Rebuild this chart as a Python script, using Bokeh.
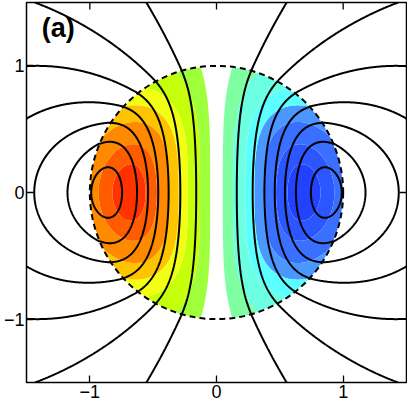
import numpy as np
from bokeh.plotting import figure
from bokeh.models import Range1d, FixedTicker, Label
from bokeh.embed import file_html
from bokeh.resources import INLINE

# ---- values ----
# equatorial radii where the black flux contours cross y=0 inside the sphere, and their flux values
eq_r = [0.16, 0.28, 0.38, 0.46, 0.54, 0.63, 0.74, 0.86, 0.984, 1.0]
eq_psi = [0.075, 0.23, 0.385, 0.54, 0.695, 0.85, 1.005, 1.06, 1.005, 1.0]
# flux values of the drawn black contours
psi_levels = [0.075, 0.23, 0.385, 0.54, 0.695, 0.85, 1.005]
# filled-band thresholds (magnitude) of the coloured field inside the sphere
band_levels = [0.05, 0.13, 0.225, 0.295, 0.36, 0.438, 0.488]
band_top = 1.0
pos_colors = ["#9eff3a", "#c6ff0a", "#f2ff12", "#ffc400", "#ff8a00", "#ff5c00", "#ff3200"]
neg_colors = ["#80ffa2", "#6cffe2", "#5cffff", "#4a98ff", "#3a70ff", "#2c56ff", "#2242ff"]
sphere_radius = 1.0
axis_min, axis_max = -1.5, 1.5
tick_vals = [-1, 0, 1]
tick_labels = ["\u22121", "0", "1"]
panel_label = "(a)"

frame_px = 380
tick_px = 7

# ---- fields ----
n = 541
xs = np.linspace(axis_min, axis_max, n)
X, Y = np.meshgrid(xs, xs)
U = X**2 + Y**2
R = np.sqrt(U)

er = np.array(eq_r)
eu = er**2
A = np.vstack([eu, eu**2, eu**3, eu**4]).T
coef, *_ = np.linalg.lstsq(A, np.array(eq_psi), rcond=None)
psi_in = X**2 * (coef[0] + coef[1]*U + coef[2]*U**2 + coef[3]*U**3)
psi_out = X**2 / np.maximum(R, 1e-9)**3
PSI = np.where(R <= sphere_radius, psi_in, psi_out)

F = -X / (1.0 + 1.5 * U**2)
F = np.where(R <= sphere_radius, F, np.nan)

p = figure(frame_width=frame_px, frame_height=frame_px,
           x_range=Range1d(axis_min, axis_max), y_range=Range1d(axis_min, axis_max),
           output_backend="svg", toolbar_location=None,
           min_border_left=22, min_border_right=1, min_border_top=2, min_border_bottom=21,
           background_fill_color="white", border_fill_color="white")
p.xgrid.visible = False
p.ygrid.visible = False
p.outline_line_color = "black"
p.outline_line_width = 1.5

for ax in (p.xaxis[0], p.yaxis[0]):
    ax.ticker = FixedTicker(ticks=tick_vals)
    ax.major_label_overrides = {v: s for v, s in zip(tick_vals, tick_labels)}
    ax.major_tick_in = tick_px
    ax.major_tick_out = 0
    ax.major_tick_line_width = 1.3
    ax.minor_tick_line_color = None
    ax.axis_line_color = None
    ax.major_label_text_font = "Liberation Sans"
    ax.major_label_text_font_size = "18px"
    ax.major_label_text_color = "black"
    ax.major_label_standoff = 2

# filled bands
p.contour(X, Y, F, levels=band_levels + [band_top], fill_color=pos_colors, line_color=None)
p.contour(X, Y, F, levels=[-band_top] + [-t for t in reversed(band_levels)],
          fill_color=list(reversed(neg_colors)), line_color=None)

# black flux lines
p.contour(X, Y, PSI, levels=psi_levels, fill_color=None, line_color="black", line_width=2.0)

# dashed sphere boundary
p.circle(x=[0], y=[0], radius=sphere_radius, fill_color=None, line_color="black",
         line_width=2.0, line_dash="6 4")

# mirrored ticks on the top and right edges
tl = tick_px * (axis_max - axis_min) / frame_px
nt = len(tick_vals)
p.segment(x0=tick_vals, y0=[axis_max]*nt, x1=tick_vals, y1=[axis_max - tl]*nt,
          line_color="black", line_width=1.3)
p.segment(x0=[axis_max]*nt, y0=tick_vals, x1=[axis_max - tl]*nt, y1=tick_vals,
          line_color="black", line_width=1.3)

p.add_layout(Label(x=-1.38, y=1.42, text=panel_label, text_font="Liberation Sans",
                   text_font_style="bold", text_font_size="27px", text_baseline="top",
                   text_color="black"))

open("out.html", "w").write(file_html(p, INLINE))
